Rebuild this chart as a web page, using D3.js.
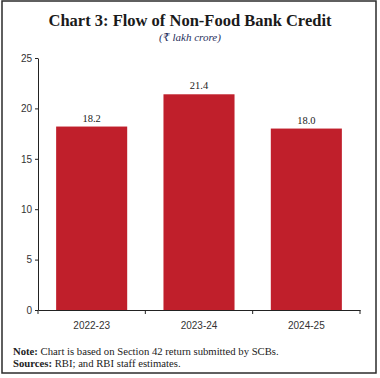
<!DOCTYPE html>
<html><head><meta charset="utf-8">
<script src="https://cdn.jsdelivr.net/npm/d3@7"></script>
<style>body{margin:0;background:#fff}svg{display:block}</style>
</head><body>
<svg id="c" width="380" height="378"></svg>
<script>
const categories = ["2022-23", "2023-24", "2024-25"];
const values = [18.2, 21.4, 18.0];
const labels = ["18.2", "21.4", "18.0"];
const yTicks = [0, 5, 10, 15, 20, 25];
const title = "Chart 3: Flow of Non-Food Bank Credit";
const subtitle = "(₹ lakh crore)";

const svg = d3.select("#c");
svg.append("rect").attr("x", 2).attr("y", 1).attr("width", 374).attr("height", 372)
  .attr("fill", "#fff").attr("stroke", "#2b2b2b").attr("stroke-width", 1.5);

svg.append("text").attr("x", 190).attr("y", 26).attr("text-anchor", "middle")
  .attr("font-family", "Liberation Serif, serif").attr("font-weight", "bold")
  .attr("font-size", 16.5).attr("fill", "#1a1a1a").text(title);
svg.append("text").attr("x", 190).attr("y", 40.5).attr("text-anchor", "middle")
  .attr("font-family", "Liberation Serif, DejaVu Serif, serif").attr("font-style", "italic")
  .attr("font-size", 11).attr("fill", "#1f2f5c").text(subtitle);

const x = d3.scaleBand().domain(categories).range([38, 360]).paddingInner(0.338).paddingOuter(0.169);
const y = d3.scaleLinear().domain([0, 25]).range([310, 58]);

svg.selectAll("rect.bar").data(values).join("rect").attr("class", "bar")
  .attr("x", (d, i) => x(categories[i])).attr("width", x.bandwidth())
  .attr("y", d => y(d)).attr("height", d => y(0) - y(d)).attr("fill", "#c01f2b");

svg.selectAll("text.val").data(values).join("text").attr("class", "val")
  .attr("x", (d, i) => x(categories[i]) + x.bandwidth() / 2).attr("y", d => y(d) - 5)
  .attr("text-anchor", "middle").attr("font-family", "Liberation Serif, serif")
  .attr("font-size", 10.5).attr("fill", "#222").text((d, i) => labels[i]);

// y axis
const yAxis = svg.append("g").attr("transform", "translate(38,0)")
  .call(d3.axisLeft(y).tickValues(yTicks).tickSize(3).tickPadding(3).tickSizeOuter(0));
yAxis.select(".domain").attr("stroke", "#222");
yAxis.selectAll(".tick line").attr("stroke", "#222");
yAxis.selectAll("text").attr("font-family", "Liberation Sans, Arial, sans-serif")
  .attr("font-size", 10).attr("fill", "#333");

// x axis
const xAxis = svg.append("g").attr("transform", "translate(0,310)")
  .call(d3.axisBottom(x).tickSize(0).tickPadding(12).tickSizeOuter(0));
xAxis.select(".domain").attr("stroke", "#222");
xAxis.selectAll("text").attr("font-family", "Liberation Sans, Arial, sans-serif")
  .attr("font-size", 10).attr("fill", "#333");
const bounds = categories.map(c => x(c) - x.step() * x.paddingInner() / 2).concat([360]);
bounds[0] = 38;
xAxis.selectAll("line.sep").data(bounds).join("line").attr("class", "sep")
  .attr("x1", d => d).attr("x2", d => d).attr("y1", 0).attr("y2", 4).attr("stroke", "#222");

// notes
const n1 = svg.append("text").attr("x", 13).attr("y", 355)
  .attr("font-family", "Liberation Serif, serif").attr("font-size", 10.7).attr("fill", "#222");
n1.append("tspan").attr("font-weight", "bold").text("Note:");
n1.append("tspan").text(" Chart is based on Section 42 return submitted by SCBs.");
const n2 = svg.append("text").attr("x", 13).attr("y", 366.5)
  .attr("font-family", "Liberation Serif, serif").attr("font-size", 10.7).attr("fill", "#222");
n2.append("tspan").attr("font-weight", "bold").text("Sources:");
n2.append("tspan").text(" RBI; and RBI staff estimates.");
</script>
</body></html>
